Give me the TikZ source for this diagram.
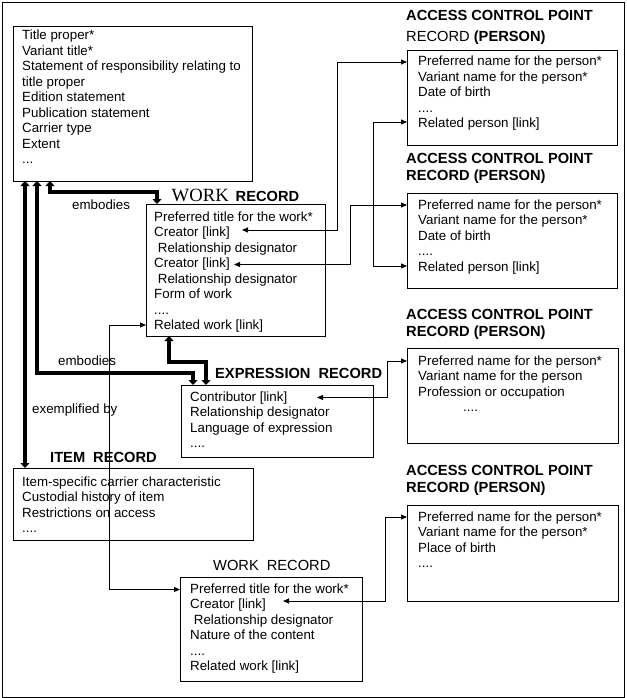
\documentclass[tikz,border=0pt]{standalone}
\usepackage{fontspec}
\setmainfont{Liberation Sans}
\newfontfamily\wserif{Liberation Serif}
\usetikzlibrary{arrows.meta}
\newcommand\fourdots{....}
\newcommand\threedots{...}
\newcommand\rlines[4]{%
  \foreach \t [count=\i] in {#4} {\node[txt] (#1\i) at ({#2},{#3+15.45*(\i-1)}) {\t};}}
\begin{document}
\begin{tikzpicture}[x=1pt,y=-1pt,
  box/.style={draw,line width=0.9pt,inner sep=0pt,anchor=north west},
  txt/.style={anchor=base west,inner sep=0pt,font=\fontsize{13.33}{15.45}\selectfont},
  hd/.style={anchor=base west,inner sep=0pt,font=\fontsize{14.67}{17}\selectfont\bfseries},
  lbl/.style={anchor=base west,inner sep=0pt,font=\fontsize{13.33}{15.45}\selectfont},
  >={Triangle[length=6pt,width=5pt]},
  lnk/.style={line width=0.9pt,<->},
  fat/.style={line width=4pt,{Triangle[length=5pt,width=9pt]}-{Triangle[length=5pt,width=9pt]}}]
\useasboundingbox (0,0) rectangle (626,698);
\node[draw,line width=1pt,inner sep=0pt,anchor=north west,minimum width=622pt,minimum height=695pt] (frame) at (2,2) {};

% manifestation
\node[box,minimum width=239pt,minimum height=155pt] (man) at (13,26) {};
\rlines{m}{22}{40}{Title proper*,Variant title*,Statement of responsibility relating to,title proper,Edition statement,Publication statement,Carrier type,Extent,\threedots}

% work record
\node[anchor=base west,inner sep=0pt] (wkh) at (171.5,201) {{\fontsize{18.67}{20}\wserif WORK}\hspace{7pt}{\fontsize{14.67}{17}\selectfont\bfseries RECORD}};
\node[box,minimum width=179pt,minimum height=132pt] (wk) at (146,204) {};
\rlines{w}{154}{221.5}{Preferred title for the work*,Creator [link],{\hspace{3.7pt}Relationship designator},Creator [link],{\hspace{3.7pt}Relationship designator},Form of work,\fourdots,Related work [link]}

% ACP 1
\node[hd] (a1h1) at (406,20.5) {ACCESS CONTROL POINT};
\node[hd] (a1h2) at (406,42) {{\mdseries RECORD} (PERSON)};
\node[box,minimum width=210pt,minimum height=95pt] (a1) at (407,50) {};
\rlines{p}{418}{66}{Preferred name for the person*,Variant name for the person*,Date of birth,\fourdots,Related person [link]}

% ACP 2
\node[hd] (a2h1) at (406,163) {ACCESS CONTROL POINT};
\node[hd] (a2h2) at (406,180.5) {RECORD (PERSON)};
\node[box,minimum width=210pt,minimum height=95pt] (a2) at (407,193) {};
\rlines{q}{418}{209.5}{Preferred name for the person*,Variant name for the person*,Date of birth,\fourdots,Related person [link]}

% ACP 3
\node[hd] (a3h1) at (406,319) {ACCESS CONTROL POINT};
\node[hd] (a3h2) at (406,336) {RECORD (PERSON)};
\node[box,minimum width=211pt,minimum height=95pt] (a3) at (407,348) {};
\rlines{r}{418}{365.5}{Preferred name for the person*,Variant name for the person,Profession or occupation,{\hspace{45pt}\fourdots}}

% ACP 4
\node[hd] (a4h1) at (406,475) {ACCESS CONTROL POINT};
\node[hd] (a4h2) at (406,492) {RECORD (PERSON)};
\node[box,minimum width=211pt,minimum height=96pt] (a4) at (407,505) {};
\rlines{s}{418}{521.5}{Preferred name for the person*,Variant name for the person*,Place of birth,\fourdots}

% expression
\node[hd] (exh) at (215,378) {EXPRESSION\hspace{8pt}RECORD};
\node[box,minimum width=192pt,minimum height=72pt] (ex) at (181,385) {};
\rlines{e}{190}{401.5}{Contributor [link],Relationship designator,Language of expression,\fourdots}

% item
\node[hd] (ith) at (50,462.5) {ITEM\hspace{8pt}RECORD};
\node[box,minimum width=240pt,minimum height=72pt] (it) at (13,468) {};
\rlines{i}{22}{486.5}{Item-specific carrier characteristic,Custodial history of item,Restrictions on access,\fourdots}

% work record 2
\node[anchor=base west,inner sep=0pt,font=\fontsize{14.67}{17}\selectfont] (w2h) at (213,570) {WORK\hspace{8pt}RECORD};
\node[box,minimum width=182pt,minimum height=104pt] (w2) at (180,577) {};
\rlines{v}{190}{593.5}{Preferred title for the work*,Creator [link],{\hspace{3.7pt}Relationship designator},Nature of the content,\fourdots,Related work [link]}

% labels
\node[lbl] (emb1) at (72,209.5) {embodies};
\node[lbl] (emb2) at (58,365.5) {embodies};
\node[lbl] (exby) at (32,413.5) {exemplified by};

% connector end points
\coordinate (wc1) at (242,230);
\coordinate (wc2) at (234,264.5);
\coordinate (wrel) at (146,325);
\coordinate (a1in) at (407,62);
\coordinate (a1rel) at (407,122);
\coordinate (a2in) at (407,205);
\coordinate (a2rel) at (407,266);
\coordinate (econ) at (317,397.5);
\coordinate (a3in) at (407,361);
\coordinate (w2in) at (180,589.5);
\coordinate (w2c) at (283,601);
\coordinate (a4in) at (407,517);

\draw[lnk] (wc1) -- ++(95,0) |- (a1in);
\draw[lnk] (wc2) -- ++(116,0) |- (a2in);
\draw[lnk] (a1rel) -- ++(-34,0) |- (a2rel);
\draw[lnk] (econ) -- ++(70,0) |- (a3in);
\draw[lnk] (wrel) -- ++(-37,0) |- (w2in);
\draw[lnk] (w2c) -- ++(102,0) |- (a4in);

% thick connectors
\coordinate (mA) at (50,181);
\coordinate (mB) at (37,181);
\coordinate (mC) at (25,181);
\coordinate (wA) at (157,204);
\coordinate (wD) at (169,336);
\coordinate (eB) at (193,385);
\coordinate (eD) at (206,385);
\coordinate (iC) at (25,468);
\draw[fat] (mA) |- (157,192) -- (wA);
\draw[fat] (mB) |- (193,373) -- (eB);
\draw[fat] (mC) -- (iC);
\draw[fat] (wD) |- (206,362) -- (eD);
\end{tikzpicture}
\end{document}
